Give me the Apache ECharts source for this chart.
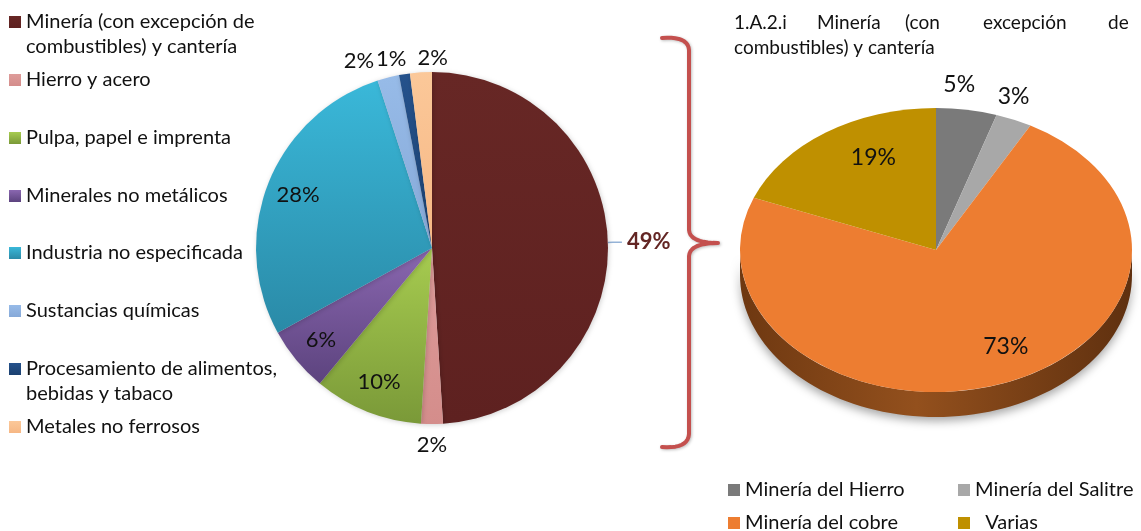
<!DOCTYPE html>
<html>
<head>
<meta charset="utf-8">
<script src="https://cdn.jsdelivr.net/npm/echarts@6/dist/echarts.min.js"></script>
<style>
  html, body { margin: 0; padding: 0; background: #fff; }
  #chart { width: 1141px; height: 531px; }
</style>
</head>
<body>
<div id="chart"></div>
<script>
// subsectores industriales (torta izquierda), en %
const sectores = [
  'Minería (con excepción de\ncombustibles) y cantería',
  'Hierro y acero',
  'Pulpa, papel e imprenta',
  'Minerales no metálicos',
  'Industria no especificada',
  'Sustancias químicas',
  'Procesamiento de alimentos,\nbebidas y tabaco',
  'Metales no ferrosos'
];
const sectoresPct = [49, 2, 10, 6, 28, 2, 1, 2];

// desglose de minería (torta derecha), en %
const mineria = ['Minería del Hierro', 'Minería del Salitre', 'Minería del cobre', 'Varias'];
const mineriaPct = [5, 3, 73, 19];

const FONT = 'Lato, "Open Sans", sans-serif';
const TXT = '#111';
const FS = 20;

// colores
const coloresSect = [
  ['#672725', '#5E2120'], ['#DE9C9A', '#D48D8B'], ['#A7CC50', '#7A9938'], ['#8A67B0', '#5C437E'],
  ['#3AB8D9', '#2A8AA7'], ['#97BBE8', '#86A9D8'], ['#25528C', '#1B406F'], ['#FBC899', '#F6B784']
];
const coloresMin = ['#7A7A7A', '#A8A8A8', '#ED7D31', '#BF9000'];
// dónde va cada etiqueta de la torta izquierda
const posEtiqueta = ['linea', 'abajo', 'dentro', 'dentro', 'dentro', 'arriba', 'arriba', 'arriba'];
// separación de las etiquetas chicas de arriba (para que no se encimen)
const separa = [[0, 0], [0, 0], [0, 0], [0, 0], [0, 0], [-24, 4], [-10, 5], [13, 7]];

function grad(c) {
  return { type: 'linear', x: 0, y: 0, x2: 0, y2: 1,
    colorStops: [{ offset: 0, color: c[0] }, { offset: 1, color: c[1] }] };
}

// geometría de la torta 3D
const CX = 936, CY = 250, RX = 196, RY = 142, PROF = 25;

function porcion(k) {
  return function (params, api) {
    const total = mineriaPct.reduce((a, b) => a + b, 0);
    const antes = mineriaPct.slice(0, k).reduce((a, b) => a + b, 0);
    const valor = api.value(0);
    const a0 = antes / total * 2 * Math.PI - Math.PI / 2;
    const a1 = (antes + valor) / total * 2 * Math.PI - Math.PI / 2;
    const children = [];

    // pared lateral visible (mitad delantera)
    const s = Math.max(a0, 0), e = Math.min(a1, Math.PI);
    if (s < e) {
      const pts = [];
      const n = 80;
      for (let j = 0; j <= n; j++) {
        const a = s + (e - s) * j / n;
        pts.push([CX + RX * Math.cos(a), CY + RY * Math.sin(a)]);
      }
      for (let j = n; j >= 0; j--) {
        const a = s + (e - s) * j / n;
        pts.push([CX + RX * Math.cos(a), CY + RY * Math.sin(a) + PROF]);
      }
      children.push({
        type: 'polygon',
        shape: { points: pts },
        style: {
          fill: { type: 'linear', x: 0, y: 0, x2: 1, y2: 0, colorStops: [
            { offset: 0, color: '#6E3811' }, { offset: 0.45, color: '#93501D' }, { offset: 1, color: '#5F300F' }] },
          shadowBlur: 10, shadowColor: 'rgba(0,0,0,0.35)', shadowOffsetY: 4
        }
      });
    }

    children.push({
      type: 'sector',
      x: CX, y: CY, scaleY: RY / RX,
      shape: { cx: 0, cy: 0, r: RX, r0: 0, startAngle: a0, endAngle: a1, clockwise: true },
      style: { fill: api.visual('color') }
    });

    // etiqueta: las chicas por fuera, las grandes por dentro (con corrimiento de perspectiva)
    const mid = (antes + valor / 2) / total * 2 * Math.PI;
    const chica = valor / total < 0.1;
    const f = chica ? 1.15 : 0.75;
    children.push({
      type: 'text',
      x: CX + (chica ? -12 : 20) + RX * f * Math.sin(mid),
      y: CY - 4 - RY * f * Math.cos(mid),
      style: { text: valor + '%', fontSize: 23, fontFamily: FONT, fill: TXT, align: 'center', verticalAlign: 'middle' }
    });
    return { type: 'group', children: children };
  };
}

// leyendas individuales, para fijar la posición de cada cuadro
const ICON_Y = [22, 80, 138, 196, 253, 311, 369, 427];
const leyendas = sectores.map((n, i) => {
  const dos = n.indexOf('\n') >= 0;
  return {
    data: [n],
    // línea vacía delante para que el cuadro quede a la altura del primer renglón
    formatter: name => (name.indexOf('\n') >= 0 ? '\n' + name : name),
    left: 9, top: ICON_Y[i] - (dos ? 37.5 : 12.5), padding: 0,
    icon: 'rect', itemWidth: 12, itemHeight: 12, itemGap: 5, selectedMode: false,
    textStyle: { fontSize: FS, lineHeight: 25, fontFamily: FONT, color: TXT }
  };
});
const posMin = [[728, 490], [958, 490], [728, 523], [958, 523]];
mineria.forEach((n, i) => {
  leyendas.push({
    data: [n],
    formatter: name => (name === 'Varias' ? '  ' + name : name),
    left: posMin[i][0], top: posMin[i][1] - 12.5, padding: 0,
    icon: 'rect', itemWidth: 12, itemHeight: 12, itemGap: 5, selectedMode: false,
    textStyle: { fontSize: FS, lineHeight: 25, fontFamily: FONT, color: TXT }
  });
});

// llave (curva cuadrática muestreada)
function cuad(p0, p1, p2, out) {
  for (let t = 0; t <= 1.0001; t += 0.1) {
    const u = 1 - t;
    out.push([u * u * p0[0] + 2 * u * t * p1[0] + t * t * p2[0], u * u * p0[1] + 2 * u * t * p1[1] + t * t * p2[1]]);
  }
}
const llave = [];
cuad([662, 38], [688, 36], [689, 50], llave);
cuad([689, 230], [690, 243], [718, 243], llave);
cuad([718, 243], [690, 243], [689, 256], llave);
cuad([689, 434], [688, 449], [662, 447], llave);

const chart = echarts.init(document.getElementById('chart'));

const transparente = { color: 'rgba(0,0,0,0)' };
const TS = 19;

function anilloEtiquetas(radio, cual, extra) {
  return Object.assign({
    type: 'pie',
    center: [432, 248],
    radius: radio,
    startAngle: 90,
    silent: true,
    avoidLabelOverlap: false,
    itemStyle: transparente,
    labelLine: { show: false },
    data: sectores.map((n, i) => ({
      name: n, value: sectoresPct[i],
      label: { show: posEtiqueta[i] === cual, position: 'inside', formatter: '{c}%',
        fontSize: 22, fontFamily: FONT, color: TXT }
    }))
  }, extra || {});
}

chart.setOption({
  animation: false,
  title: {
    left: 734, top: 10, padding: 0,
    text: '{a|1.A.2.i}{b|Minería}{c|(con}{d|excepción}{e|de}\ncombustibles) y cantería',
    textStyle: {
      fontSize: TS, fontWeight: 'normal', fontFamily: FONT, color: TXT, lineHeight: 25,
      rich: {
        a: { width: 83, fontSize: TS, fontFamily: FONT, color: TXT },
        b: { width: 88, fontSize: TS, fontFamily: FONT, color: TXT },
        c: { width: 78, fontSize: TS, fontFamily: FONT, color: TXT },
        d: { width: 125, fontSize: TS, fontFamily: FONT, color: TXT },
        e: { fontSize: TS, fontFamily: FONT, color: TXT }
      }
    }
  },
  legend: leyendas,
  graphic: [{
    type: 'polyline',
    shape: { points: llave },
    style: { fill: null, stroke: '#C4504E', lineWidth: 4, lineCap: 'round', lineJoin: 'round',
      shadowBlur: 3, shadowColor: 'rgba(0,0,0,0.25)', shadowOffsetX: 1, shadowOffsetY: 1 }
  }],
  series: [
    {
      name: 'Subsectores',
      type: 'pie',
      center: [432, 248],
      radius: 176,
      startAngle: 90,
      clockwise: true,
      avoidLabelOverlap: false,
      silent: true,
      label: { show: false },
      labelLine: { show: false },
      itemStyle: { shadowBlur: 5, shadowColor: 'rgba(0,0,0,0.18)', shadowOffsetX: 1, shadowOffsetY: 1 },
      data: sectores.map((n, i) => ({
        name: n,
        value: sectoresPct[i],
        itemStyle: { color: grad(coloresSect[i]) },
        label: posEtiqueta[i] === 'linea' ? {
          show: true, position: 'outside', formatter: '{c}%',
          fontSize: 22, fontWeight: 'bold', fontFamily: FONT, color: '#632523'
        } : { show: false },
        labelLine: posEtiqueta[i] === 'linea' ? {
          show: true, length: 5, length2: 9, smooth: false,
          lineStyle: { color: '#95B3D7', width: 1.5 }
        } : { show: false }
      }))
    },
    anilloEtiquetas([106, 176], 'dentro'),
    anilloEtiquetas([176, 212], 'abajo'),
    anilloEtiquetas([176, 212], 'arriba', {
      labelLayout: p => ({ dx: separa[p.dataIndex][0], dy: separa[p.dataIndex][1] })
    })
  ].concat(mineria.map((n, k) => ({
    name: n,
    type: 'custom',
    coordinateSystem: 'none',
    silent: true,
    itemStyle: { color: coloresMin[k] },
    renderItem: porcion(k),
    data: [[mineriaPct[k]]]
  })))
});
</script>
</body>
</html>
